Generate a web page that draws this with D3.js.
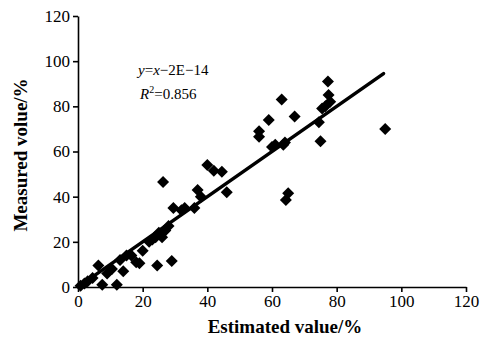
<!DOCTYPE html>
<html>
<head>
<meta charset="utf-8">
<script src="https://cdn.jsdelivr.net/npm/d3@7"></script>
<style>
  html, body { margin: 0; padding: 0; background: #fff; }
  svg text { font-family: "Liberation Serif", "Times New Roman", serif !important; fill: #000; }
  .axis path, .axis line { stroke: #000; stroke-width: 1.6; }
  .axis text { font-size: 17px; }
</style>
</head>
<body>
<svg id="chart" width="480" height="343"></svg>
<script>
// estimated values (x = estimated %, y = measured %)
const estimated = [0.8, 2, 3, 4.5, 6.3, 7.5, 9, 10.5, 12, 13, 14, 15, 16.5, 18, 19, 20,
  22, 23, 24, 24.5, 25, 26, 26.3, 27, 28, 29, 29.5, 32, 33, 36, 37, 38, 40, 42, 44.5, 46,
  56, 56, 59, 60, 61, 63, 63.5, 64, 64.3, 65, 67, 74.5, 75, 75.5, 76.5, 77.3, 77.5, 78, 95];
const measured = [0.5, 1.5, 2.5, 4, 9.5, 1, 6, 8, 1, 12, 7, 14, 14, 11, 10.5, 16,
  20, 21, 22, 9.5, 24, 22, 46.5, 25, 27, 11.5, 35, 34, 35, 35, 43, 40, 54, 51.5, 51, 42,
  69, 66.5, 74, 62, 63, 83, 63, 64, 38.5, 41.5, 75.5, 73, 64.5, 79, 80, 91, 85, 82, 70];
const xTicks = [0, 20, 40, 60, 80, 100, 120];
const yTicks = [0, 20, 40, 60, 80, 100, 120];
const fitRange = [0.5, 94.5];

const svg = d3.select("#chart");
const x = d3.scaleLinear().domain([0, 120]).range([78, 466]);
const y = d3.scaleLinear().domain([0, 120]).range([287, 16]);

svg.append("g").attr("class", "axis").attr("transform", "translate(0,287)")
  .call(d3.axisBottom(x).tickValues(xTicks).tickSize(5).tickSizeOuter(0).tickPadding(3));
svg.append("g").attr("class", "axis").attr("transform", "translate(78,0)")
  .call(d3.axisLeft(y).tickValues(yTicks).tickSize(5).tickSizeOuter(0).tickPadding(3));

// fitted line y = x
svg.append("line")
  .attr("x1", x(fitRange[0])).attr("y1", y(fitRange[0]))
  .attr("x2", x(fitRange[1])).attr("y2", y(fitRange[1]))
  .attr("stroke", "#000").attr("stroke-width", 3.5).attr("stroke-linecap", "round");

const diamond = d3.symbol().type(d3.symbolSquare).size(72);
svg.append("g").selectAll("path")
  .data(d3.zip(estimated, measured))
  .join("path")
  .attr("d", diamond)
  .attr("transform", (d) => `translate(${x(d[0])},${y(d[1])}) rotate(45)`)
  .attr("fill", "#000");

const eq = svg.append("text").attr("x", 138).attr("y", 75).attr("font-size", 15);
eq.append("tspan").attr("font-style", "italic").text("y");
eq.append("tspan").text("=");
eq.append("tspan").attr("font-style", "italic").text("x");
eq.append("tspan").text("\u22122E\u221214");

const r2 = svg.append("text").attr("x", 140).attr("y", 99).attr("font-size", 15);
r2.append("tspan").attr("font-style", "italic").text("R");
r2.append("tspan").attr("font-size", 10).attr("dy", -6).text("2");
r2.append("tspan").attr("dy", 6).text("=0.856");

svg.append("text").attr("x", 285).attr("y", 333).attr("text-anchor", "middle")
  .attr("font-size", 19).attr("font-weight", "bold").text("Estimated value/%");
svg.append("text").attr("transform", "translate(27,155) rotate(-90)").attr("text-anchor", "middle")
  .attr("font-size", 19).attr("font-weight", "bold").text("Measured volue/%");
</script>
</body>
</html>
